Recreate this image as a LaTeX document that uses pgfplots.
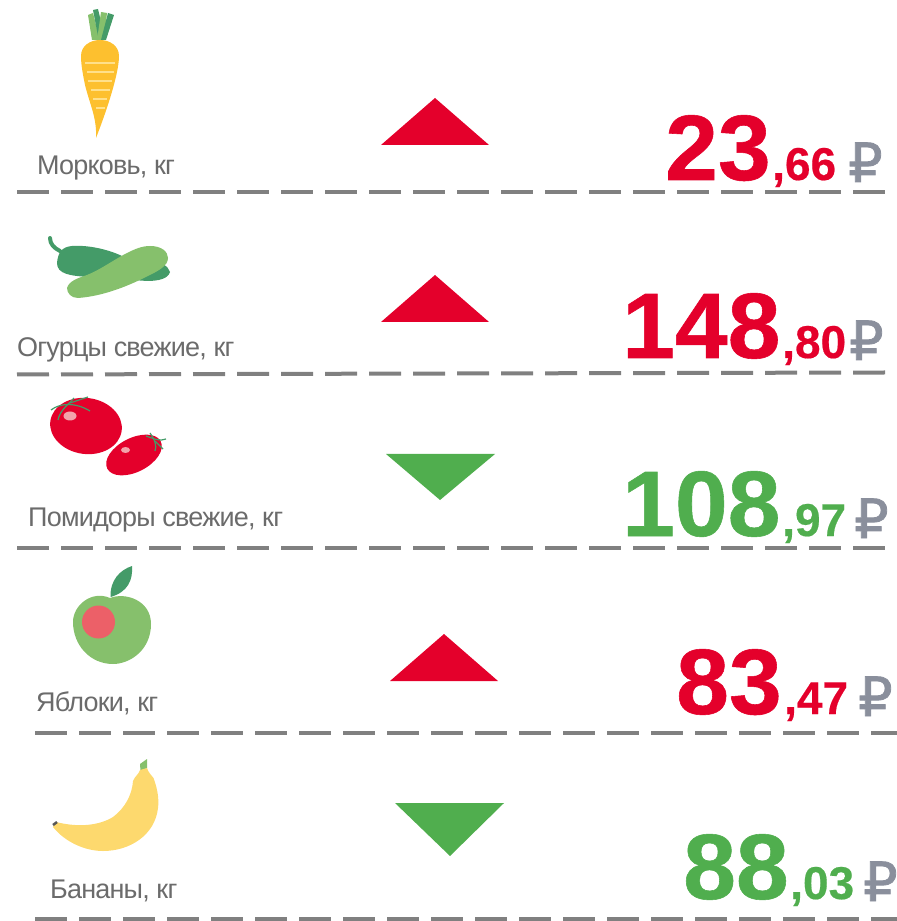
\documentclass[border=0pt]{standalone}
\usepackage{fontspec}
\setmainfont{Liberation Sans}
\newfontfamily\rubfont{DejaVu Sans}
\usepackage{pgfplots}
\pgfplotsset{compat=1.18}
\definecolor{upred}{HTML}{E4002B}
\definecolor{downgreen}{HTML}{50AE4E}
\definecolor{rub}{HTML}{8A8F9C}
\definecolor{lbl}{HTML}{6B6B6B}
\definecolor{dash}{HTML}{808080}
\definecolor{leafd}{HTML}{449B68}
\definecolor{leafl}{HTML}{86C06C}
\definecolor{carrot}{HTML}{FDC02F}
\definecolor{stripe}{HTML}{FFE08A}
\definecolor{banana}{HTML}{FDD96E}
\definecolor{apple}{HTML}{EC6068}
\definecolor{shine}{HTML}{F2A3AB}

% row label: x, baseline y, text
\newcommand{\rowlabel}[3]{\node[anchor=base west,inner sep=0pt,text=lbl,font=\fontsize{27bp}{28bp}\selectfont\addfontfeature{LetterSpace=-3}] at (#1,#2) {#3};}
% price: x whole, x kopecks, x rouble, baseline, whole, kopecks, colour
\newcommand{\price}[7]{%
  \node[anchor=base west,inner sep=0pt,text=#7,font=\fontsize{93bp}{100bp}\selectfont\bfseries\addfontfeature{FakeBold=0.6,FakeStretch=1.02}] at (#1,#4) {#5};
  \node[anchor=base west,inner sep=0pt,text=#7,font=\fontsize{46bp}{50bp}\selectfont\bfseries\addfontfeature{FakeBold=0.4}] at (#2,#4) {,#6};
  \node[anchor=base west,inner sep=0pt,text=rub,font=\fontsize{54bp}{50bp}\selectfont\rubfont\addfontfeature{FakeBold=1.5}] at (#3,#4+2) {₽};
}

\begin{document}
\begin{tikzpicture}[x=1bp,y=1bp]
\path[use as bounding box] (0,0) rectangle (897,921);
\begin{axis}[
    at={(0,0)},anchor=south west,
    width=897bp,height=921bp,scale only axis,
    xmin=0,xmax=897,ymin=0,ymax=921,
    y dir=reverse,
    hide axis,clip=false,
]
% dashed separators
\pgfplotsset{sep/.style={draw=dash,line width=4bp,dash pattern=on 32bp off 12bp}}
\addplot[sep] coordinates {(17,192) (885,192)};
\addplot[sep] coordinates {(17,374.5) (885,372.5)};
\addplot[sep] coordinates {(17,548) (885,548)};
\addplot[sep] coordinates {(35,733) (897,733)};
\addplot[sep] coordinates {(35,919) (897,919)};

% change arrows
\addplot[fill=upred,draw=none] coordinates {(381,145) (489,145) (435,98)} -- cycle;
\addplot[fill=upred,draw=none] coordinates {(381,322) (489,322) (435,275)} -- cycle;
\addplot[fill=downgreen,draw=none] coordinates {(386,454) (495,454) (440,500)} -- cycle;
\addplot[fill=upred,draw=none] coordinates {(390,681) (498,681) (444,634)} -- cycle;
\addplot[fill=downgreen,draw=none] coordinates {(395,803) (504,803) (450,856)} -- cycle;

% carrot
\fill[leafl] (88,15) -- (93,13) -- (100,40) -- (92,40) -- cycle;
\fill[leafd] (93,10) -- (98,9) -- (104,34) -- (98,36) -- cycle;
\fill[leafl] (101,12) -- (107,13) -- (104,40) -- (97,40) -- cycle;
\fill[leafd] (108,13) -- (114,15) -- (106,40) -- (101,40) -- cycle;
\fill[carrot] (100,40) .. controls (110,40) and (119,46) .. (119,56)
  .. controls (119,75) and (105,115) .. (96,138)
  .. controls (97,118) and (90,105) .. (85,85)
  .. controls (83,75) and (81,65) .. (81,56)
  .. controls (81,46) and (90,40) .. (100,40) -- cycle;
\foreach \ya/\xa/\xb in {63/85/115,72/87/114,81/88/112,90/91/110,99/93/107,108/96/105}
  {\edef\tmp{\noexpand\draw[stripe,line width=1.6bp] (\xa,\ya) -- (\xb,\ya);}\tmp}

% cucumbers
\draw[leafd,line width=4bp,line cap=round] (50,238) .. controls (50,244) and (54,248) .. (60,251);
\fill[leafd] (57,263) .. controls (58,252) and (62,247) .. (72,246)
  .. controls (85,245) and (105,248) .. (122,256)
  .. controls (145,256) and (166,260) .. (170,272)
  .. controls (168,279) and (158,281) .. (147,281)
  -- (90,277) .. controls (70,276) and (57,274) .. (57,263) -- cycle;
\fill[leafl] (67,288) .. controls (69,281) and (78,278) .. (87,275)
  .. controls (100,270) and (115,259) .. (127,253)
  .. controls (135,249) and (142,246) .. (150,246)
  .. controls (162,246) and (168,252) .. (168,258)
  .. controls (168,266) and (158,271) .. (148,276)
  .. controls (130,285) and (105,296) .. (78,298)
  .. controls (71,298) and (67,293) .. (67,288) -- cycle;

% tomatoes
\fill[upred] (86,426) ellipse[x radius=36bp,y radius=28bp,rotate=-8];
\fill[upred] (134,455) ellipse[x radius=30bp,y radius=17bp,rotate=27];
\fill[shine] (70,416) ellipse[x radius=6.5bp,y radius=4.5bp];
\fill[shine] (125.5,450) ellipse[x radius=4.5bp,y radius=3bp];
\draw[leafd,line width=1.2bp] (51,410) .. controls (60,403) and (75,402) .. (90,411);
\draw[leafd,line width=1.2bp] (58,420) .. controls (60,410) and (68,405) .. (74,398);
\draw[leafd,line width=1.2bp] (70,403) -- (88,397);
\draw[leafd,line width=1.2bp] (146,436) .. controls (152,438) and (160,442) .. (166,439);
\draw[leafd,line width=1.2bp] (150,433) .. controls (155,440) and (157,446) .. (155,451);
\draw[leafd,line width=1.2bp] (155,441) -- (163,449);

% apple
\fill[leafd] (110.5,597) .. controls (110,580) and (120,570) .. (132,566)
  .. controls (133,580) and (128,592) .. (110.5,597) -- cycle;
\fill[leafl] (110,598) .. controls (125,592) and (151,600) .. (151,624)
  .. controls (151,650) and (130,664) .. (113,664)
  .. controls (90,664) and (73,645) .. (73,622)
  .. controls (73,605) and (92,590) .. (110,598) -- cycle;
\fill[apple] (98.5,622) circle[radius=16.5bp];

% banana
\fill[leafl] (140,764) -- (147,759) -- (147,768) -- (140.5,771) -- cycle;
\fill[banana] (140,770) -- (147,768) .. controls (148,772) and (152,776) .. (153.5,778)
  .. controls (158,790) and (159,800) .. (158,808)
  .. controls (155,835) and (130,851) .. (103,851)
  .. controls (85,851) and (65,842) .. (53,827)
  -- (56,822) .. controls (80,828) and (100,825) .. (113,817)
  .. controls (125,808) and (132,795) .. (133,781)
  .. controls (135,776) and (139,774) .. (140,770) -- cycle;
\draw[lbl!80!black,line width=2.5bp] (53,825) -- (57,822);

% labels
\rowlabel{37}{174.5}{Морковь, кг}
\rowlabel{17}{356.5}{Огурцы свежие, кг}
\rowlabel{28}{526}{Помидоры свежие, кг}
\rowlabel{36}{711.5}{Яблоки, кг}
\rowlabel{50}{898.5}{Бананы, кг}

% prices
\price{665}{772}{848}{180}{23}{66}{upred}
\price{622}{782}{849}{358}{148}{80}{upred}
\price{622}{782}{854}{536}{108}{97}{downgreen}
\price{676}{784}{858}{714}{83}{47}{upred}
\price{683}{790}{863}{899}{88}{03}{downgreen}
\end{axis}
\end{tikzpicture}
\end{document}
